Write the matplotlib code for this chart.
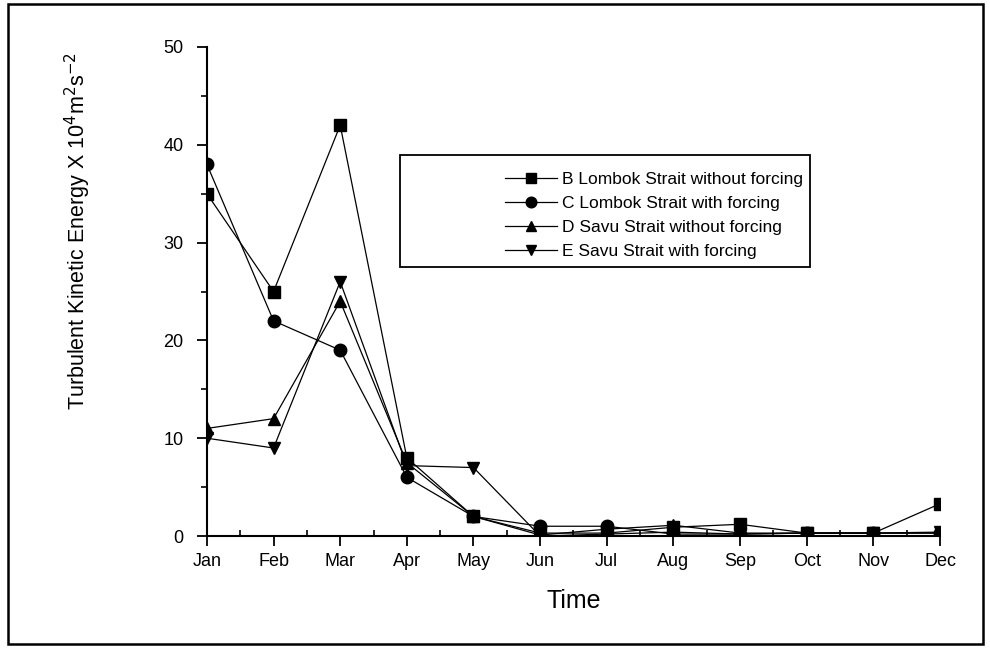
import matplotlib.pyplot as plt
from matplotlib.patches import Rectangle
import numpy as np

plt.rcParams['font.family'] = ['Liberation Sans', 'DejaVu Sans']

months = ['Jan', 'Feb', 'Mar', 'Apr', 'May', 'Jun', 'Jul', 'Aug', 'Sep', 'Oct', 'Nov', 'Dec']

# turbulent kinetic energy, x 10^4 m^2 s^-2
lombok_no_forcing = [35, 25, 42, 8, 2, 0.3, 0.3, 0.9, 1.2, 0.3, 0.3, 3.3]
lombok_forcing = [38, 22, 19, 6, 2, 1.0, 1.0, 0.2, 0.2, 0.3, 0.3, 0.3]
savu_no_forcing = [11, 12, 24, 7.5, 2, 0.1, 0.7, 1.1, 0.3, 0.3, 0.3, 0.3]
savu_forcing = [10, 9, 26, 7.2, 7, 0.0, 0.2, 0.4, 0.2, 0.3, 0.3, 0.4]

labels = ['B Lombok Strait without forcing', 'C Lombok Strait with forcing',
          'D Savu Strait without forcing', 'E Savu Strait with forcing']
markers = ['s', 'o', '^', 'v']

fig = plt.figure(figsize=(9.9, 6.48), dpi=100)
ax = fig.add_axes([0.209, 0.1728, 0.7405, 0.7547])

x = np.arange(len(months))
for vals, m, lab in zip([lombok_no_forcing, lombok_forcing, savu_no_forcing, savu_forcing],
                        markers, labels):
    ax.plot(x, vals, color='black', lw=0.9, marker=m, markersize=9, label=lab)

ax.set_xlim(0, 11)
ax.set_ylim(0, 50)
ax.set_xticks(x)
ax.set_xticklabels(months)
ax.set_xticks(x[:-1] + 0.5, minor=True)
ax.set_yticks(np.arange(0, 51, 10))
ax.set_yticks(np.arange(5, 50, 10), minor=True)

for s in ['top', 'right']:
    ax.spines[s].set_visible(False)
for s in ['left', 'bottom']:
    ax.spines[s].set_linewidth(1.5)

ax.tick_params(axis='both', which='major', direction='out', length=7, width=1.3,
               labelsize=13)
ax.tick_params(axis='y', which='minor', direction='out', length=4, width=1.2)
ax.tick_params(axis='x', which='minor', direction='in', length=4, width=1.2)
ax.tick_params(axis='y', pad=10)
ax.tick_params(axis='x', pad=5)

ax.set_xlabel('Time', fontsize=18, labelpad=14)
ax.set_ylabel(r'Turbulent Kinetic Energy X 10$^4$m$^2$s$^{-2}$', fontsize=15.5, va='center')
ax.yaxis.set_label_coords(-0.176, 0.624)

# legend box with blank space on the left
fig.patches.append(Rectangle((400 / 990, 1 - 267 / 648), 410 / 990, 112 / 648,
                             transform=fig.transFigure, fill=False, ec='black', lw=1.3))
ax.legend(loc='upper left', bbox_to_anchor=(505 / 990, 1 - 172 / 648),
          bbox_transform=fig.transFigure, frameon=False, fontsize=12.5,
          handlelength=3.0, handletextpad=0.3, labelspacing=0.5,
          markerscale=0.85, borderpad=0, borderaxespad=0)

# frame around the whole figure
fig.patches.append(Rectangle((8 / 990, 4 / 648), 975 / 990, 640 / 648,
                             transform=fig.transFigure, fill=False, ec='black', lw=1.8))

fig.savefig('out.png', dpi=100)
